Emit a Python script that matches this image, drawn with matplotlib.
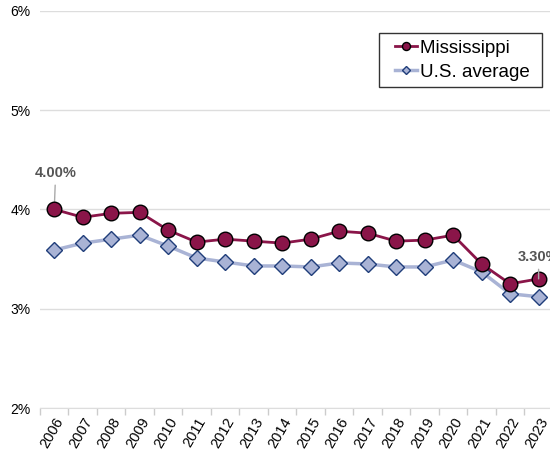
import numpy as np
import matplotlib.pyplot as plt
from matplotlib.lines import Line2D
from matplotlib.legend_handler import HandlerLine2D

years = [str(y) for y in range(2006, 2024)]
mississippi = [4.00, 3.92, 3.96, 3.97, 3.79, 3.67, 3.70, 3.68, 3.66, 3.70,
               3.78, 3.76, 3.68, 3.69, 3.74, 3.45, 3.25, 3.30]
us_average = [3.59, 3.66, 3.70, 3.74, 3.63, 3.51, 3.47, 3.43, 3.43, 3.42,
              3.46, 3.45, 3.42, 3.42, 3.49, 3.37, 3.15, 3.12]
y_ticks = [2, 3, 4, 5, 6]

plt.rcParams['font.family'] = ['Liberation Sans', 'DejaVu Sans']

maroon = '#8A1549'
lav = '#A9B3D5'
navy = '#1F3D7A'

fig = plt.figure(figsize=(5.5, 4.54), dpi=100)
# axes box in pixels: left 40, top 10.7, bottom 408
ax = fig.add_axes([40 / 550, 1 - 408 / 454, 1 - 40 / 550, (408 - 10.7) / 454])

x = np.arange(len(years))
ax.plot(x, us_average, color=lav, lw=2.5, marker='D', ms=8, mfc=lav,
        mec=navy, mew=1, label='U.S. average', zorder=3)
ax.plot(x, mississippi, color=maroon, lw=2, marker='o', ms=10.5, mfc=maroon,
        mec='black', mew=1, label='Mississippi', zorder=4)

ax.set_ylim(2, 6)
ax.set_xlim(-0.5, 17.4)
ax.set_yticks(y_ticks)
ax.set_yticklabels([f'{v}%' for v in y_ticks], fontsize=10)
ax.yaxis.grid(True, color='#DDDDDD', lw=1)
ax.set_axisbelow(True)
ax.tick_params(axis='y', length=0, pad=7)

# category ticks sit between the labels
ax.set_xticks(x)
ax.set_xticklabels(years, rotation=60, fontsize=10.5, ha='right',
                   rotation_mode='anchor')
ax.set_xticks(np.arange(-0.5, 17.5, 1), minor=True)
ax.tick_params(axis='x', which='major', length=0, pad=5)
ax.tick_params(axis='x', which='minor', length=5, color='#CCCCCC', width=1)

for s in ['top', 'right', 'left']:
    ax.spines[s].set_visible(False)
ax.spines['bottom'].set_color('#DDDDDD')

# data labels
ax.annotate('4.00%', xy=(0, mississippi[0]), xytext=(0.05, 4.37),
            ha='center', va='center', fontsize=10.5, fontweight='bold',
            color='#555555', zorder=3.5,
            arrowprops=dict(arrowstyle='-', color='#AAAAAA', lw=1, shrinkA=2, shrinkB=0))
ax.annotate('3.30%', xy=(17, mississippi[-1]), xytext=(17, 3.523),
            ha='center', va='center', fontsize=10.5, fontweight='bold',
            color='#555555', zorder=5,
            arrowprops=dict(arrowstyle='-', color='#AAAAAA', lw=1, shrinkA=2, shrinkB=0))

handles, labels = ax.get_legend_handles_labels()
leg = ax.legend(handles[::-1], [l + ' ' for l in labels[::-1]], loc='upper right',
                bbox_to_anchor=((541.7 - 40) / 510, (408 - 33.3) / 397.3),
                fontsize=13.5, frameon=True, fancybox=False, edgecolor='black',
                handlelength=1.7, handletextpad=0.15, borderpad=0.35,
                labelspacing=0.35, markerscale=0.55, borderaxespad=0,
                handler_map={Line2D: HandlerLine2D(xpad=0.5)})
leg.get_frame().set_linewidth(1)

fig.savefig('out.png', dpi=100)
